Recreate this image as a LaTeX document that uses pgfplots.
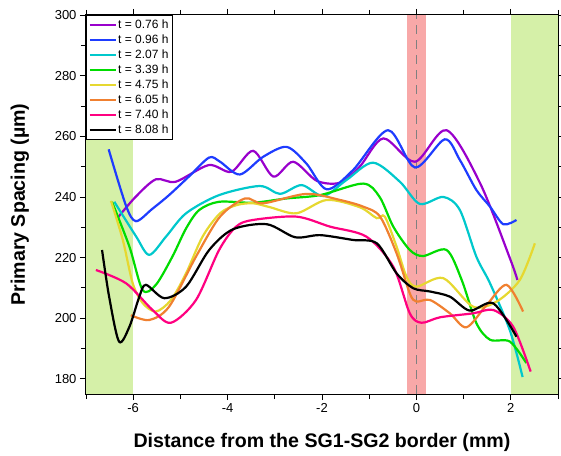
\documentclass[border=0pt]{standalone}
\usepackage{fontspec}
\setmainfont{Liberation Sans}
\usepackage{pgfplots}
\pgfplotsset{compat=1.18}

\definecolor{cPurple}{RGB}{153,0,204}
\definecolor{cBlue}{RGB}{30,60,255}
\definecolor{cCyan}{RGB}{0,200,204}
\definecolor{cGreen}{RGB}{0,220,0}
\definecolor{cYellow}{RGB}{230,216,48}
\definecolor{cOrange}{RGB}{240,128,48}
\definecolor{cPink}{RGB}{255,0,128}
\definecolor{zoneGreen}{RGB}{213,240,168}
\definecolor{zoneRed}{RGB}{248,168,168}

\begin{document}
\begin{tikzpicture}
\begin{axis}[
    scale only axis,
    width=472pt, height=379pt,
    xmin=-7, xmax=3, ymin=175, ymax=300,
    xtick={-6,-4,...,2}, minor xtick={-7,-5,...,3},
    ytick={180,200,...,300}, minor ytick={190,210,...,290},
    tick align=outside,
    major tick length=6pt, minor tick length=5pt,
    tick style={black, line width=0.8pt},
    axis line style={line width=1pt},
    ticklabel style={font=\fontsize{13}{15}\selectfont},
    /pgf/number format/assume math mode=true,
    xlabel={Distance from the SG1-SG2 border (mm)},
    ylabel={Primary Spacing (µm)},
    label style={font=\bfseries\fontsize{19.6}{22}\selectfont},
    xlabel style={at={(axis description cs:0.5,-0.127)}, anchor=center},
    ylabel style={at={(axis description cs:-0.14,0.5)}, anchor=center},
    legend style={at={(0,1)}, anchor=north west, draw=black, line width=0.8pt,
        fill=white, font=\fontsize{12}{14}\selectfont, row sep=2pt,
        inner xsep=2pt, inner ysep=3pt,
        nodes={inner sep=1.5pt, text height=9pt, text depth=1pt}},
    legend cell align=left,
    legend image code/.code={\draw[#1] (0pt,0pt) -- (26pt,0pt);},
    every axis plot/.append style={line width=2.2pt, smooth, tension=0.5},
]

% shaded zones and border line
\fill[zoneGreen] (axis cs:-7,175) rectangle (axis cs:-6,300);
\fill[zoneGreen] (axis cs:2,175) rectangle (axis cs:3,300);
\fill[zoneRed] (axis cs:-0.2,175) rectangle (axis cs:0.2,300);
\draw[gray, line width=1.6pt, dash pattern=on 9pt off 6pt] (axis cs:0,175) -- (axis cs:0,300);

\addplot[cPurple] coordinates {
    (-6.32,233.3) (-5.95,240) (-5.52,245.8) (-5.1,245.0) (-4.4,250.5)
    (-3.92,248.3) (-3.46,255.2) (-3.03,246.7) (-2.61,251.6) (-2.11,245.3)
    (-1.62,244.7) (-1.2,250) (-0.7,259.3) (-0.03,251.6) (0.64,262)
    (1.35,244.5) (1.98,219.8) (2.14,212.6)
};
\addplot[cBlue] coordinates {
    (-6.52,255.7) (-6.15,237) (-5.94,232) (-5.6,236) (-5.24,240.6)
    (-4.8,247) (-4.39,253) (-4.16,251.6) (-3.74,247.4) (-3.25,253.2)
    (-2.75,256.5) (-2.33,251) (-1.9,242.5) (-1.34,248.9) (-0.6,262)
    (-0.03,249.7) (0.6,259) (0.92,252.2) (1.27,242.3) (1.56,236.8)
    (1.84,231) (2.12,232.4)
};
\addplot[cCyan] coordinates {
    (-6.4,238.4) (-5.94,227) (-5.66,220.9) (-5.3,227) (-4.88,234.6)
    (-4.18,240.6) (-3.32,243.6) (-2.89,241) (-2.43,243.9) (-1.97,240.3)
    (-1.48,245.6) (-0.92,251.3) (-0.35,245) (0.07,237.7) (0.57,240)
    (0.92,235.7) (1.27,220.3) (1.56,211.5) (1.98,196) (2.25,180.6)
};
\addplot[cGreen] coordinates {
    (-6.45,238.4) (-6.08,223.6) (-5.8,209.3) (-5.52,211) (-5.17,220.3)
    (-4.88,229.6) (-4.6,235.7) (-4.18,238.4) (-3.46,238.1) (-2.75,239.5)
    (-2.04,240.6) (-1.13,244.4) (-0.78,240) (-0.49,230.2) (-0.14,222.5)
    (0.14,220.5) (0.64,222.5) (0.96,212.6) (1.27,198.4) (1.56,192.9)
    (1.98,192.3) (2.33,185.2)
};
\addplot[cYellow] coordinates {
    (-6.47,238.7) (-6.22,225.8) (-6.01,211.5) (-5.8,205) (-5.52,202.2)
    (-5.2,206) (-4.88,214.8) (-4.53,226.9) (-4.16,234.6) (-3.81,237.3)
    (-3.46,237.9) (-3.1,236.6) (-2.54,234.6) (-1.9,239) (-1.2,236.6)
    (-0.84,233) (-0.67,233.5) (-0.42,223.6) (-0.21,213.7) (0.0,210.4)
    (0.57,213.2) (1.2,203.8) (1.7,205.5) (2.19,212.6) (2.51,224.7)
};
\addplot[cOrange] coordinates {
    (-6.05,201) (-5.66,199.4) (-5.24,203.8) (-4.67,220.3) (-4.16,233.5)
    (-3.63,239.5) (-3.25,237.9) (-2.33,241) (-1.62,239) (-1.13,236.8)
    (-0.77,233.5) (-0.42,221.4) (-0.14,208.2) (0.0,205.5) (0.29,206)
    (0.71,201.6) (1.06,197) (1.49,204.4) (1.91,211) (2.26,202.2)
};
\addplot[cPink] coordinates {
    (-6.79,215.9) (-6.15,211.5) (-5.59,202.7) (-5.2,198.5) (-4.67,206)
    (-4.18,222.5) (-3.82,230.2) (-3.46,232.4) (-2.54,233.5) (-1.83,230.2)
    (-1.06,226.9) (-0.49,217) (-0.14,201.6) (0.11,198.5) (0.5,200.3)
    (1.2,201.6) (1.63,202.7) (2.05,197.2) (2.42,182.4)
};
\addplot[black] coordinates {
    (-6.66,222.5) (-6.51,207.1) (-6.3,192.3) (-6.08,197.2) (-5.87,207.1)
    (-5.73,211) (-5.34,206.6) (-4.88,210.4) (-4.39,222.5) (-3.89,229.3)
    (-3.17,231) (-2.57,226.7) (-2.04,227.4) (-1.34,225.8) (-0.84,224.7)
    (-0.42,214.8) (-0.07,209.9) (0.29,208.8) (0.71,207.1) (1.13,202.5)
    (1.63,204.9) (2.12,193.9)
};

\legend{t = 0.76 h, t = 0.96 h, t = 2.07 h, t = 3.39 h,
        t = 4.75 h, t = 6.05 h, t = 7.40 h, t = 8.08 h}
\end{axis}
% frame the page as the reference: axis box at (0,0)-(472,379)
\pgfresetboundingbox
\path[use as bounding box] (-86pt,-61pt) rectangle (475pt,394pt);
\end{tikzpicture}
\end{document}
